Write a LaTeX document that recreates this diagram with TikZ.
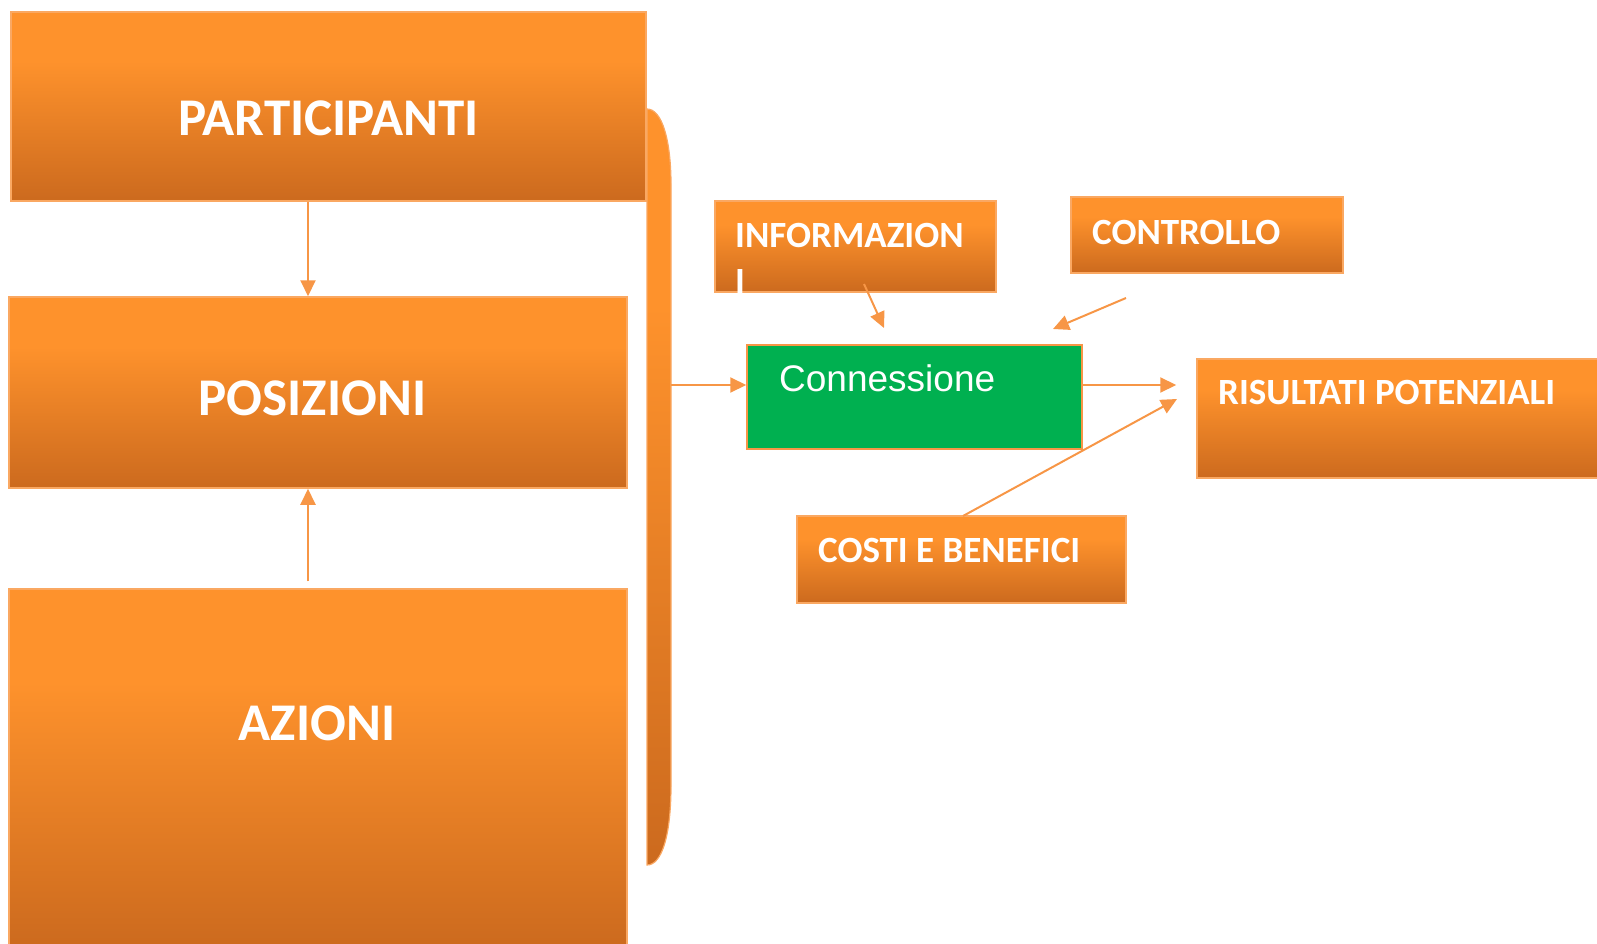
\documentclass[tikz,border=0pt]{standalone}
\usepackage{fontspec}
\newfontfamily\carl{Carlito}
\newfontfamily\arialf{Liberation Sans}
\usetikzlibrary{arrows.meta}
\definecolor{orTop}{RGB}{254,146,44}
\definecolor{orBot}{RGB}{204,106,30}
\definecolor{orEdge}{RGB}{250,168,98}
\definecolor{orLine}{RGB}{247,150,70}
\definecolor{grn}{RGB}{0,176,80}
\pgfdeclareverticalshading{orgrad}{100bp}{color(0bp)=(orBot); color(25bp)=(orBot); color(62bp)=(orTop); color(75bp)=(orTop); color(100bp)=(orTop)}
\tikzset{
  obox/.style={rectangle, inner sep=0pt, draw=orEdge, line width=1.5pt, shade, shading=orgrad},
  gbox/.style={rectangle, inner sep=0pt, draw=orLine, line width=1.5pt, fill=grn},
  bigtxt/.style={text=white, inner sep=0pt, font=\carl\bfseries\fontsize{53}{63}\selectfont},
  smalltxt/.style={text=white, inner sep=0pt, anchor=base west, font=\carl\bfseries\fontsize{37}{46}\selectfont},
  arr/.style={draw=orLine, line width=2pt, -{Triangle[length=16pt,width=15pt]}}
}
\begin{document}
\begin{tikzpicture}[x=1pt,y=-1pt]
\clip (0,0) rectangle (1597,944);
% left boxes
\node[obox, minimum width=635pt, minimum height=189pt] (part) at (328.5,106.5) {};
\node[obox, minimum width=618pt, minimum height=191pt] (pos) at (318,392.5) {};
\node[obox, minimum width=618pt, minimum height=358pt] (az) at (318,768) {};
\node[bigtxt] (tpart) at (328.5,118) {PARTICIPANTI};
\node[bigtxt] (tpos) at (312.5,398) {POSIZIONI};
\node[bigtxt] (taz) at (317,723) {AZIONI};
% brace
\shade[shading=orgrad, draw=orEdge, line width=1.2pt]
  (647,109) .. controls (662,109) and (671,140) .. (671,185) -- (671,785)
  .. controls (671,835) and (662,865) .. (647,865) -- cycle;
\coordinate (bt) at (671,385);
% right boxes
\node[obox, minimum width=281pt, minimum height=91pt] (info) at (855.5,246.5) {};
\node[obox, minimum width=272pt, minimum height=76pt] (ctrl) at (1207,235) {};
\node[gbox, minimum width=335pt, minimum height=104pt] (con) at (914.5,397) {};
\node[obox, minimum width=420pt, minimum height=119pt] (ris) at (1407,418.5) {};
\node[obox, minimum width=329pt, minimum height=87pt] (costi) at (961.5,559.5) {};
\begin{scope}
\clip (info.south west) rectangle (info.north east);
\node[smalltxt] (tinfo) at (735,247) {\vtop{\baselineskip=46pt\hbox{INFORMAZION}\hbox{I}}};
\end{scope}
\node[smalltxt] (tctrl) at (1092,244) {CONTROLLO};
\node[text=white, inner sep=0pt, anchor=base west, font=\arialf\fontsize{37}{44}\selectfont] (tcon) at (779,391) {Connessione};
\node[smalltxt] (tris) at (1218,404) {RISULTATI POTENZIALI};
\node[smalltxt] (tcosti) at (818,562) {COSTI E BENEFICI};
% connectors
\coordinate (vx) at (308,0);
\draw[arr] (vx |- part.south) -- (vx |- pos.north);
\draw[arr, shorten <=7pt] (vx |- az.north) -- (vx |- pos.south);
\draw[arr] (bt) -- (bt -| con.west);
\draw[arr, shorten >=20pt] (bt -| con.east) -- (bt -| ris.west);
\coordinate (infoout) at (864,284);
\coordinate (infoin) at (884,328);
\draw[arr] (infoout) -- (infoin);
\coordinate (ctrlout) at (1126,298);
\coordinate (ctrlin) at (1053,329);
\draw[arr] (ctrlout) -- (ctrlin);
\coordinate (costiout) at (963,516);
\coordinate (risin) at (1177,399);
\draw[arr] (costiout) -- (risin);
\end{tikzpicture}
\end{document}
